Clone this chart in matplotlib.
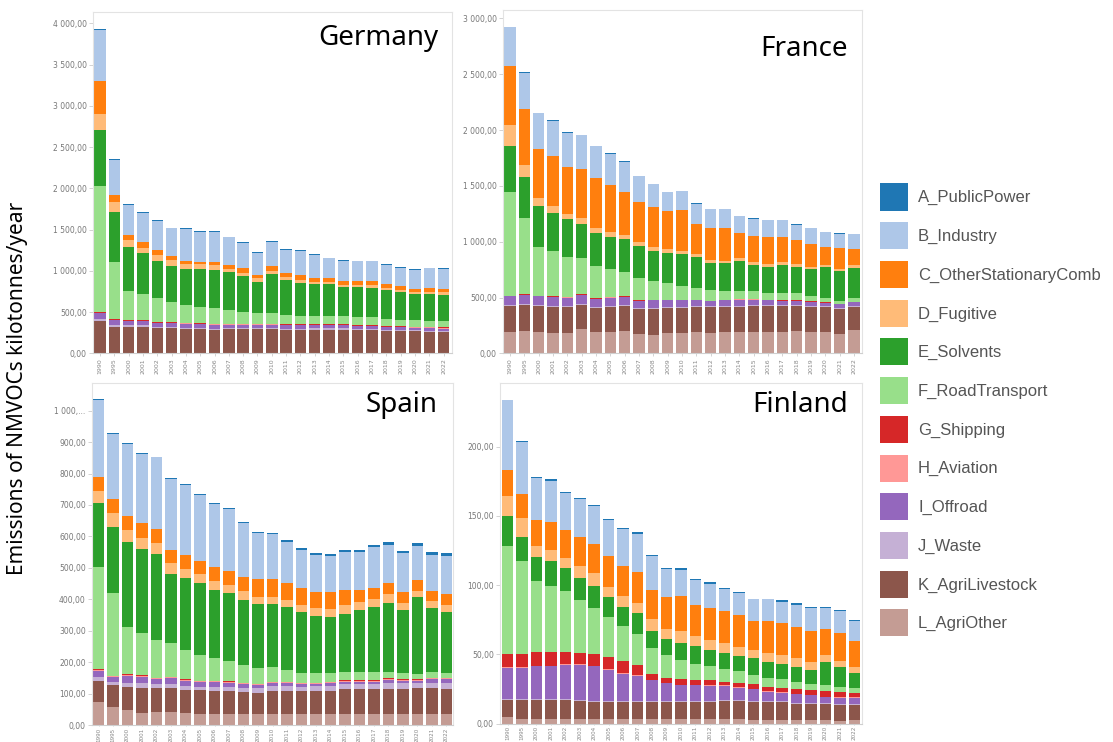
import matplotlib
matplotlib.use('Agg')
import matplotlib.pyplot as plt
from matplotlib.ticker import FixedLocator, FixedFormatter

years = [1990, 1995] + list(range(2000, 2023))
sectors = ['A_PublicPower', 'B_Industry', 'C_OtherStationaryComb', 'D_Fugitive',
           'E_Solvents', 'F_RoadTransport', 'G_Shipping', 'H_Aviation',
           'I_Offroad', 'J_Waste', 'K_AgriLivestock', 'L_AgriOther']
colors = ['#1f77b4', '#aec7e8', '#ff7f0e', '#ffbb78', '#2ca02c', '#98df8a',
          '#d62728', '#ff9896', '#9467bd', '#c5b0d5', '#8c564b', '#c49c94']

# ---------------- Germany ----------------
de_A = [10, 8, 15, 15, 8, 8, 8, 8, 8, 8, 8, 15, 15, 8, 8, 8, 8, 8, 8, 8, 8, 8, 8, 8, 8]
de_B = [620, 424, 361, 349, 360, 336, 388, 363, 363, 336, 303, 264, 288, 279, 299, 279, 238, 250, 242, 242, 227, 214, 230, 242, 246]
de_C = [400, 81, 61, 69, 56, 48, 40, 32, 36, 48, 57, 40, 60, 48, 57, 45, 45, 45, 45, 45, 52, 49, 37, 41, 37]
de_D = [195, 122, 81, 68, 73, 69, 61, 61, 65, 40, 40, 41, 41, 41, 32, 32, 28, 28, 28, 33, 25, 24, 28, 28, 32]
de_E = [677, 604, 540, 497, 452, 436, 429, 453, 457, 457, 436, 383, 476, 424, 404, 384, 388, 348, 356, 351, 351, 343, 315, 324, 312]
de_F = [1531, 696, 348, 311, 284, 247, 218, 198, 190, 162, 138, 122, 122, 109, 97, 97, 97, 97, 101, 101, 85, 73, 82, 73, 80]
de_G = [5, 8, 8, 8, 8, 7, 7, 7, 7, 7, 7, 7, 7, 7, 7, 6, 6, 6, 6, 6, 6, 6, 6, 6, 7]
de_H = [5, 6, 6, 5, 6, 5, 6, 6, 6, 6, 6, 6, 6, 6, 6, 6, 6, 6, 6, 6, 6, 6, 5, 7, 6]
de_I = [75, 55, 50, 45, 45, 42, 45, 42, 48, 42, 42, 42, 42, 45, 42, 40, 40, 40, 36, 36, 33, 33, 30, 32, 30]
de_J = [17, 25, 22, 20, 18, 15, 15, 14, 16, 14, 14, 14, 14, 15, 14, 13, 13, 13, 13, 13, 12, 12, 11, 11, 10]
de_K = [395, 322, 318, 326, 306, 310, 298, 298, 286, 294, 294, 294, 294, 282, 286, 290, 290, 290, 282, 282, 274, 274, 270, 266, 262]
de_L = [0] * 25

# ---------------- France ----------------
fr_A = [5, 5, 8, 8, 5, 8, 8, 8, 8, 5, 4, 4, 4, 6, 4, 4, 5, 5, 4, 4, 4, 4, 4, 6, 4]
fr_B = [347, 323, 317, 315, 308, 299, 279, 279, 272, 228, 205, 169, 169, 179, 167, 167, 150, 150, 148, 145, 136, 139, 128, 129, 134]
fr_C = [528, 501, 436, 445, 415, 439, 454, 423, 385, 355, 358, 344, 365, 271, 286, 292, 221, 233, 248, 224, 215, 202, 165, 181, 144]
fr_D = [185, 111, 72, 68, 51, 57, 44, 45, 39, 39, 30, 35, 29, 27, 30, 24, 30, 30, 21, 30, 24, 22, 20, 22, 20]
fr_E = [418, 367, 367, 335, 334, 298, 290, 281, 290, 289, 273, 268, 290, 278, 242, 251, 272, 236, 239, 254, 239, 242, 275, 266, 267]
fr_F = [924, 682, 437, 407, 360, 327, 291, 252, 219, 196, 164, 146, 118, 100, 91, 73, 67, 67, 55, 61, 61, 46, 37, 27, 36]
fr_G = [5] * 25
fr_H = [1] * 25
fr_I = [76, 79, 76, 85, 79, 82, 73, 73, 73, 67, 67, 61, 64, 55, 46, 49, 55, 46, 40, 34, 34, 34, 25, 35, 37]
fr_J = [10] * 25
fr_K = [239, 230, 239, 233, 233, 218, 218, 230, 221, 221, 230, 227, 224, 224, 227, 230, 230, 239, 239, 236, 224, 224, 224, 221, 203]
fr_L = [188, 203, 188, 179, 179, 215, 188, 188, 203, 173, 170, 179, 179, 188, 185, 188, 188, 188, 188, 191, 203, 194, 194, 173, 209]

# ---------------- Spain ----------------
es_A = [3, 3, 3, 3, 3, 3, 3, 3, 3, 3, 3, 3, 3, 6, 4, 5, 6, 7, 7, 6, 7, 7, 9, 9, 9]
es_B = [243, 206, 228, 221, 227, 227, 224, 208, 202, 196, 172, 148, 143, 132, 121, 117, 116, 121, 123, 129, 121, 124, 110, 116, 121]
es_C = [45, 44, 45, 46, 44, 43, 44, 44, 44, 47, 45, 56, 56, 53, 55, 53, 53, 49, 38, 36, 37, 35, 34, 32, 34]
es_D = [40, 44, 39, 36, 36, 34, 29, 28, 30, 24, 29, 23, 23, 24, 23, 23, 24, 28, 23, 26, 27, 23, 19, 21, 24]
es_E = [203, 210, 268, 266, 274, 218, 228, 228, 216, 215, 207, 205, 202, 199, 192, 181, 181, 185, 199, 207, 219, 199, 247, 204, 194]
es_F = [324, 264, 152, 135, 119, 108, 94, 82, 71, 66, 56, 48, 45, 37, 32, 32, 26, 26, 26, 26, 22, 21, 15, 17, 14]
es_G = [2, 2, 2, 2, 2, 2, 2, 2, 2, 3, 2, 2, 2, 2, 2, 2, 2, 3, 3, 3, 2, 2, 2, 3, 3]
es_H = [3] * 25
es_I = [19, 14, 21, 21, 16, 19, 16, 14, 14, 11, 11, 10, 9, 9, 8, 6, 9, 7, 7, 6, 10, 8, 8, 12, 12]
es_J = [13, 11, 13, 14, 11, 13, 13, 11, 13, 13, 15, 16, 15, 15, 13, 15, 15, 15, 14, 15, 18, 18, 16, 16, 18]
es_K = [67, 71, 74, 80, 77, 75, 74, 76, 74, 74, 69, 66, 74, 74, 74, 74, 74, 79, 80, 80, 80, 80, 82, 82, 80]
es_L = [74, 56, 48, 39, 42, 42, 37, 35, 35, 35, 35, 35, 35, 35, 35, 35, 35, 35, 35, 35, 35, 35, 35, 35, 35]

# ---------------- Finland ----------------
fi_A = [0.5, 0.5, 0.5, 0.8, 0.5, 0.6, 0.6, 0.6, 0.7, 0.8, 0.6, 1.0, 1.3, 0.8, 0.9, 0.8, 0.7, 0.6, 0.7, 1.0, 1.0, 1.2, 0.7, 1.0, 0.9]
fi_B = [50.0, 37.6, 30.8, 29.8, 27.1, 27.6, 27.6, 25.9, 26.3, 27.6, 24.2, 19.9, 18.9, 18.4, 17.4, 15.9, 16.1, 15.5, 15.4, 15.4, 15.9, 16.1, 15.5, 15.6, 14.5]
fi_C = [19.3, 17.5, 18.6, 20.0, 20.0, 21.1, 21.1, 22.2, 21.7, 22.4, 21.4, 22.9, 25.5, 22.2, 23.4, 23.1, 22.9, 21.2, 23.6, 22.9, 22.8, 22.5, 18.7, 20.7, 19.2]
fi_D = [14.2, 13.8, 7.9, 8.2, 7.7, 8.5, 9.0, 7.2, 7.9, 7.7, 8.4, 7.2, 8.9, 7.0, 7.2, 7.3, 6.3, 6.0, 6.3, 6.5, 6.1, 5.5, 4.9, 4.5, 3.9]
fi_E = [21.7, 17.3, 17.6, 18.1, 16.4, 16.1, 15.6, 14.5, 14.0, 15.0, 12.3, 11.6, 11.6, 13.0, 11.1, 11.3, 11.1, 11.6, 11.3, 11.5, 11.0, 10.6, 16.8, 14.0, 10.6]
fi_F = [78.2, 67.4, 51.5, 48.1, 44.3, 38.5, 33.7, 29.3, 25.1, 21.9, 18.6, 16.6, 14.2, 12.0, 10.6, 9.6, 8.4, 7.2, 6.5, 5.8, 5.1, 4.3, 4.1, 3.6, 3.9]
fi_G = [9.6, 9.6, 9.4, 9.4, 8.4, 7.7, 8.2, 8.4, 8.8, 7.9, 4.5, 4.0, 4.0, 3.3, 3.8, 2.6, 3.3, 3.3, 3.3, 3.6, 3.3, 3.4, 4.1, 4.1, 3.3]
fi_H = [0.3] * 25
fi_I = [22.3, 22.8, 24.2, 24.2, 25.2, 25.7, 25.4, 22.8, 19.9, 18.2, 15.1, 12.7, 11.5, 11.5, 11.0, 10.3, 9.1, 8.4, 6.7, 5.9, 6.2, 5.8, 4.6, 4.7, 4.7]
fi_J = [0.6] * 25
fi_K = [12.5, 13.2, 13.3, 13.3, 13.3, 12.8, 12.3, 12.3, 12.3, 12.3, 12.4, 12.4, 12.4, 12.6, 12.6, 13.3, 13.3, 12.8, 12.8, 13.0, 11.8, 11.5, 11.5, 11.3, 10.9]
fi_L = [4.8, 3.6, 3.5, 3.5, 3.5, 3.5, 3.3, 3.3, 3.3, 3.3, 3.2, 3.2, 3.2, 3.0, 3.0, 3.0, 3.0, 2.8, 2.8, 2.6, 2.6, 2.5, 2.5, 1.9, 2.3]

de_yticks = [0, 500, 1000, 1500, 2000, 2500, 3000, 3500, 4000]
fr_yticks = [0, 500, 1000, 1500, 2000, 2500, 3000]
es_yticks = [0, 100, 200, 300, 400, 500, 600, 700, 800, 900, 1000]
fi_yticks = [0, 50, 100, 150, 200]


def fmt(v):
    s = f"{v:,.2f}".replace(',', ' ').replace('.', ',')
    return s


W, H = 1113, 742
fig = plt.figure(figsize=(W / 100, H / 100), dpi=100)


def px_rect(x0, y0, x1, y1):
    return [x0 / W, 1 - y1 / H, (x1 - x0) / W, (y1 - y0) / H]


panels = [
    ('Germany', [de_A, de_B, de_C, de_D, de_E, de_F, de_G, de_H, de_I, de_J, de_K, de_L],
     px_rect(93, 12, 452, 353.5), (0, 4137), (-0.49, 24.59), de_yticks, None,
     (438, 45), False),
    ('France', [fr_A, fr_B, fr_C, fr_D, fr_E, fr_F, fr_G, fr_H, fr_I, fr_J, fr_K, fr_L],
     px_rect(503, 10, 862, 353.5), (0, 3074), (-0.49, 24.56), fr_yticks, None,
     (848, 56), False),
    ('Spain', [es_A, es_B, es_C, es_D, es_E, es_F, es_G, es_H, es_I, es_J, es_K, es_L],
     px_rect(92, 383, 453, 725), (0, 1088), (-0.45, 24.45), es_yticks,
     [fmt(v) for v in es_yticks[:-1]] + ['1 000,...'], (438, 412), True),
    ('Finland', [fi_A, fi_B, fi_C, fi_D, fi_E, fi_F, fi_G, fi_H, fi_I, fi_J, fi_K, fi_L],
     px_rect(500, 383, 862, 723.5), (0, 246), (-0.52, 24.52), fi_yticks, None,
     (848, 412), True),
]

xpos = list(range(len(years)))
handles = None
for name, series, rect, ylim, xlim, yt, ylabels, tpos, lower in panels:
    ax = fig.add_axes(rect)
    bottom = [0.0] * len(years)
    hs = []
    # stack from L (bottom) to A (top)
    for idx in range(len(sectors) - 1, -1, -1):
        vals = series[idx]
        b = ax.bar(xpos, vals, width=0.8, bottom=bottom, color=colors[idx],
                   linewidth=0, label=sectors[idx])
        hs.append(b)
        bottom = [bb + v for bb, v in zip(bottom, vals)]
    if handles is None:
        handles = hs[::-1]
    ax.set_ylim(*ylim)
    ax.set_xlim(*xlim)
    ax.yaxis.set_major_locator(FixedLocator(yt))
    ax.yaxis.set_major_formatter(FixedFormatter(ylabels if ylabels else [fmt(v) for v in yt]))
    ax.set_xticks(xpos)
    ax.set_xticklabels([str(y) for y in years], rotation=90)
    ax.tick_params(axis='y', labelsize=5.5, labelcolor='#777777', color='#cccccc',
                   length=3, width=0.6, pad=1.5)
    if lower:
        ax.tick_params(axis='x', labelsize=4.1, labelcolor='#888888', color='#cccccc',
                       length=1, width=0.6, pad=0.8)
    else:
        ax.tick_params(axis='x', labelsize=4.5, labelcolor='#888888', color='#cccccc',
                       length=2, width=0.6, pad=1.5)
    for sp in ax.spines.values():
        sp.set_color('#e3e3e3')
        sp.set_linewidth(0.8)
    ax.spines['bottom'].set_color('#cfcfcf')
    fig.text(tpos[0] / W, 1 - tpos[1] / H, name, ha='right', va='baseline',
             fontsize=20, family='Noto Sans', color='black')

fig.text(18 / W, 1 - 388 / H, 'Emissions of NMVOCs kilotonnes/year', rotation=90,
         ha='center', va='center', fontsize=15, family='Noto Sans', color='black')

fig.legend(handles, sectors, loc='upper left', bbox_to_anchor=(880 / W, 1 - 183.5 / H),
           frameon=False, borderpad=0, borderaxespad=0,
           handlelength=1.68, handleheight=2.12, labelspacing=0.70, handletextpad=0.6,
           prop={'family': 'Liberation Sans', 'size': 12}, labelcolor='#555555')

fig.savefig('out.png', dpi=100)
